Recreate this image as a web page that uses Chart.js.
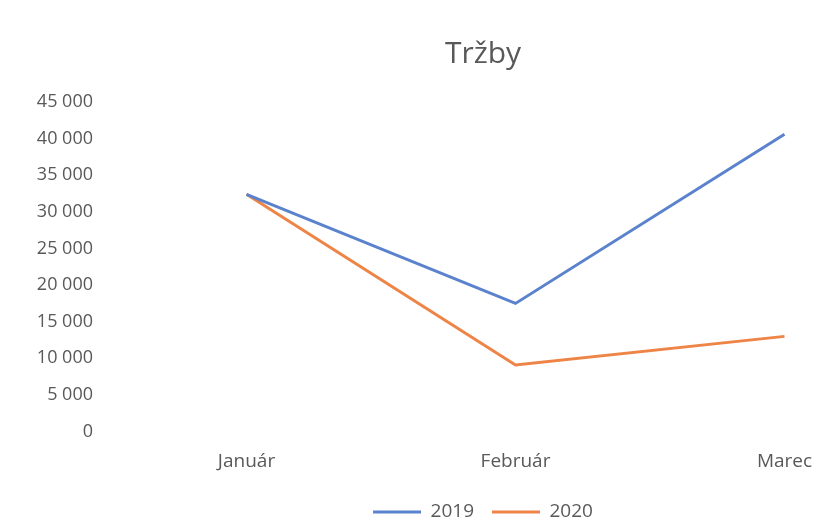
<!DOCTYPE html>
<html>
<head>
<meta charset="utf-8">
<script src="https://cdn.jsdelivr.net/npm/chart.js@4"></script>
<style>
  html, body { margin: 0; padding: 0; background: #fff; overflow: hidden; }
  #wrap { width: 966px; height: 519px; }
</style>
</head>
<body>
<div id="wrap"><canvas id="c"></canvas></div>
<script>
const months = ['Január', 'Február', 'Marec'];
const sales2019 = [32400, 17500, 40600];
const sales2020 = [32400, 9100, 13000];
const yTicks = [0, 5000, 10000, 15000, 20000, 25000, 30000, 35000, 40000, 45000];

const blue = '#5b82cc';
const orange = '#ee8446';
const grey = '#595959';

new Chart(document.getElementById('c'), {
  type: 'line',
  data: {
    labels: months,
    datasets: [{
      label: '2019',
      data: sales2019,
      borderColor: blue,
      backgroundColor: blue,
      borderWidth: 3,
      pointRadius: 0,
      tension: 0
    }, {
      label: '2020',
      data: sales2020,
      borderColor: orange,
      backgroundColor: orange,
      borderWidth: 3,
      pointRadius: 0,
      tension: 0
    }]
  },
  options: {
    responsive: true,
    maintainAspectRatio: false,
    animation: false,
    layout: {
      padding: {left: 0, right: 0, top: 0, bottom: -12.4}
    },
    plugins: {
      title: {
        display: true,
        text: 'Tržby',
        color: grey,
        font: {family: 'Open Sans', size: 30, weight: 'normal'},
        padding: {top: 36, bottom: 30}
      },
      legend: {
        position: 'bottom',
        labels: {
          usePointStyle: true,
          pointStyle: 'line',
          pointStyleWidth: 48,
          color: grey,
          font: {family: 'Open Sans', size: 19},
          padding: 18
        }
      },
      tooltip: {enabled: false}
    },
    scales: {
      x: {
        offset: true,
        grid: {display: false},
        border: {display: false},
        ticks: {
          color: grey,
          font: {family: 'Open Sans', size: 19},
          padding: 11,
          maxRotation: 0
        }
      },
      y: {
        min: 0,
        max: 45000,
        afterFit: function(scale) { scale.width = 112; },
        afterBuildTicks: function(scale) {
          scale.ticks = yTicks.map(v => ({value: v}));
        },
        grid: {display: false},
        border: {display: false},
        ticks: {
          color: grey,
          font: {family: 'Open Sans', size: 18},
          padding: 11,
          callback: v => String(v).replace(/\B(?=(\d{3})+(?!\d))/g, ' ')
        }
      },
      // empty right-hand spacer so the plot ends where the original did
      yRight: {
        position: 'right',
        afterFit: function(scale) { scale.width = 47; },
        grid: {display: false},
        border: {display: false},
        ticks: {display: false}
      }
    }
  }
});
</script>
</body>
</html>
